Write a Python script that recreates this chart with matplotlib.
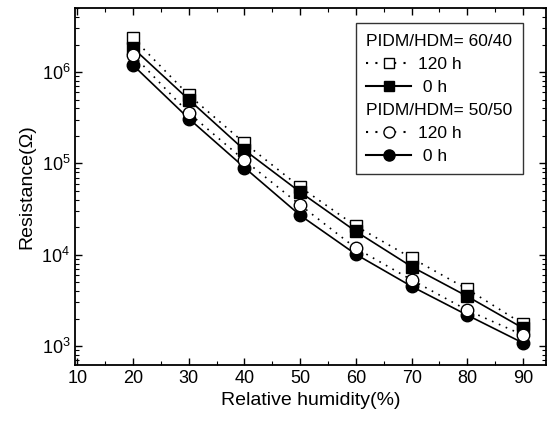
import matplotlib
matplotlib.use('Agg')
import matplotlib.pyplot as plt
from matplotlib.ticker import MultipleLocator
from matplotlib.lines import Line2D

plt.rcParams['font.family'] = ['Liberation Sans', 'DejaVu Sans']
plt.rcParams['mathtext.fontset'] = 'custom'
plt.rcParams['mathtext.rm'] = 'Liberation Sans'
plt.rcParams['mathtext.it'] = 'Liberation Sans:italic'

# relative humidity (%)
humidity = [20, 30, 40, 50, 60, 70, 80, 90]

# PIDM/HDM = 60/40
r_6040_120h = [2.35e6, 5.6e5, 1.67e5, 5.5e4, 2.06e4, 9.2e3, 4.2e3, 1.74e3]
r_6040_0h = [1.83e6, 5.0e5, 1.4e5, 4.85e4, 1.8e4, 7.4e3, 3.5e3, 1.57e3]
# PIDM/HDM = 50/50
r_5050_120h = [1.54e6, 3.56e5, 1.08e5, 3.5e4, 1.18e4, 5.3e3, 2.47e3, 1.32e3]
r_5050_0h = [1.19e6, 3.1e5, 9.0e4, 2.7e4, 1.01e4, 4.5e3, 2.18e3, 1.08e3]

fig = plt.figure(figsize=(5.52, 4.32), dpi=100)
ax = fig.add_axes([0.136, 0.155, 0.853, 0.826])

ms = 9
dots = (0, (1, 3.5))
ax.plot(humidity, r_6040_120h, ls=dots, lw=1.2, color='black', marker='s', ms=ms,
        mfc='white', mec='black', mew=1, zorder=2)
ax.plot(humidity, r_6040_0h, ls='-', lw=1.2, color='black', marker='s', ms=ms,
        mfc='black', mec='black', zorder=3)
ax.plot(humidity, r_5050_0h, ls='-', lw=1.2, color='black', marker='o', ms=ms,
        mfc='black', mec='black', zorder=4)
ax.plot(humidity, r_5050_120h, ls=dots, lw=1.2, color='black', marker='o', ms=ms,
        mfc='white', mec='black', mew=1, zorder=5)

ax.set_yscale('log')
ax.set_xlim(9.6, 94.1)
ax.set_ylim(620, 5e6)
ax.xaxis.set_major_locator(MultipleLocator(10))
ax.xaxis.set_minor_locator(MultipleLocator(5))
ax.tick_params(which='both', direction='in', top=True, right=True, labelsize=13)
ax.tick_params(which='major', length=5, width=1)
ax.tick_params(which='minor', length=3, width=0.8)
for sp in ax.spines.values():
    sp.set_linewidth(1.3)

ax.set_xlabel('Relative humidity(%)', fontsize=14)
ax.set_ylabel('Resistance(Ω)', fontsize=14)

blank = Line2D([], [], ls='none')
handles = [blank,
           Line2D([], [], ls=dots, color='black', marker='s', mfc='white', mec='black', ms=7),
           Line2D([], [], ls='-', color='black', marker='s', mfc='black', ms=7),
           blank,
           Line2D([], [], ls=dots, color='black', marker='o', mfc='white', mec='black', ms=8),
           Line2D([], [], ls='-', color='black', marker='o', mfc='black', ms=8)]
labels = ['PIDM/HDM= 60/40', '120 h', ' 0 h', 'PIDM/HDM= 50/50', '120 h', ' 0 h']
leg = ax.legend(handles, labels, loc='upper right', bbox_to_anchor=(0.951, 0.958),
                borderaxespad=0, fontsize=12.5, frameon=True, fancybox=False,
                edgecolor='black', handlelength=2.6, labelspacing=0.45,
                borderpad=0.6, handletextpad=0.4)
leg.get_frame().set_linewidth(1)
# header rows: drop the empty handle slot so the text starts at the left
rows = leg._legend_handle_box.get_children()[0].get_children()
for i in (0, 3):
    rows[i].get_children()[0].set_width(0)
    rows[i].sep = 0

fig.savefig('out.png', dpi=100)
